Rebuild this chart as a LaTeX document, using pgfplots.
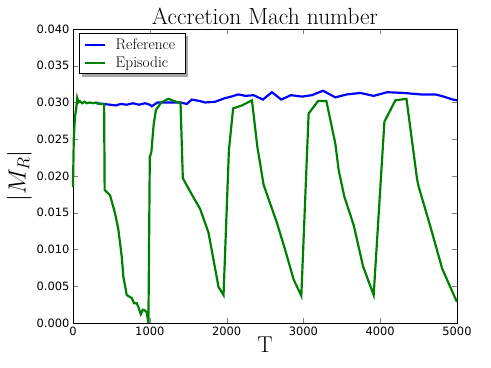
\documentclass[border=0pt]{standalone}
\usepackage{fontspec}
\usepackage{pgfplots}
\pgfplotsset{compat=1.18}
\usetikzlibrary{backgrounds,calc}
\newfontfamily\ticksans{DejaVu Sans}
\definecolor{mplblue}{rgb}{0,0,1}
\definecolor{mplgreen}{rgb}{0,0.5,0}
\begin{document}
\begin{tikzpicture}
\begin{axis}[
    scale only axis,
    width=384bp, height=294bp,
    xmin=0, xmax=5000, ymin=0, ymax=0.04,
    xtick={0,1000,2000,3000,4000,5000},
    ytick={0,0.005,0.01,0.015,0.02,0.025,0.03,0.035,0.04},
    scaled y ticks=false,
    scaled x ticks=false,
    yticklabel style={/pgf/number format/.cd, fixed, fixed zerofill, precision=3},
    xticklabel style={/pgf/number format/.cd, fixed, 1000 sep={}},
    /pgf/number format/assume math mode=true,
    ticklabel style={font=\ticksans\fontsize{11.5}{13}\selectfont},
    tick align=inside, xtick pos=both, ytick pos=both,
    major tick length=5bp,
    axis line style={line width=0.8pt},
    title={Accretion Mach number},
    title style={font=\fontsize{23.5}{26}\selectfont, yshift=-5bp},
    xlabel={T},
    xlabel style={font=\fontsize{23}{25}\selectfont, yshift=5bp},
    ylabel={$|M_R|$},
    ylabel style={font=\fontsize{23}{25}\selectfont, yshift=-2bp},
    legend style={name=leg, at={(rel axis cs:0.016,0.985)}, anchor=north west,
        draw=black, line width=0.8pt, fill=white,
        font=\fontsize{15.5}{17}\selectfont, row sep=1.5bp, inner xsep=4bp, inner ysep=3bp},
    legend image code/.code={\draw[#1] (0bp,0bp) -- (20bp,0bp);},
    legend style={nodes={inner xsep=6bp, inner ysep=2bp}},
    /tikz/every odd column/.append style={column sep=4bp},
    legend cell align=left,
    clip=false,
]
\addplot[mplblue, line width=2.2pt] coordinates {
(300,0.0299) (400,0.0298)
(480,0.0297) (560,0.0296) (620,0.0298) (700,0.0297) (780,0.0299) (860,0.0297) (940,0.0299)
(1000,0.0297) (1026,0.0295) (1100,0.0300) (1200,0.0300) (1300,0.0300) (1400,0.0300)
(1482,0.0298) (1547,0.0304) (1650,0.0302) (1720,0.0300) (1850,0.0301) (1980,0.0306)
(2060,0.0308) (2150,0.0311) (2250,0.0309) (2350,0.0310) (2473,0.0304) (2590,0.0314)
(2712,0.0304) (2838,0.0310) (2982,0.0308) (3112,0.0310) (3256,0.0316) (3416,0.0307)
(3568,0.0311) (3742,0.0313) (3915,0.0309) (4090,0.0314) (4306,0.0313) (4524,0.0311)
(4720,0.0311) (4828,0.0308) (4945,0.0304) (5000,0.0303)
};
\addlegendentry{Reference}
\addplot[mplgreen, line width=2.2pt] coordinates {
(0,0.0185) (10,0.025) (25,0.0280) (40,0.0290) (55,0.0306) (70,0.0300) (90,0.0302)
(120,0.0299) (150,0.0301) (180,0.0299) (220,0.0300) (260,0.0299) (300,0.0300) (350,0.0298)
(405,0.0298) (412,0.0181) (482,0.0174) (548,0.0149) (591,0.0127) (635,0.0090) (656,0.0063)
(700,0.0038) (765,0.0034) (795,0.0027) (830,0.0027) (850,0.0022) (883,0.0012) (908,0.0018)
(939,0.0017) (961,0.0014) (982,0.0000) (1000,0.0226) (1020,0.0232) (1050,0.0270)
(1080,0.0290) (1150,0.0300) (1240,0.0305) (1370,0.0300) (1400,0.0300) (1430,0.0197)
(1525,0.0179) (1656,0.0155) (1764,0.0123) (1895,0.0049) (1960,0.0038) (2030,0.0235)
(2085,0.0292) (2200,0.0296) (2330,0.0303) (2400,0.0240) (2482,0.0188) (2656,0.0136)
(2764,0.0099) (2873,0.0059) (2973,0.0037) (3068,0.0285) (3190,0.0302) (3299,0.0302)
(3416,0.0244) (3459,0.0208) (3533,0.0172) (3655,0.0133) (3777,0.0077) (3915,0.0038)
(4055,0.0274) (4198,0.0303) (4342,0.0305) (4481,0.0195) (4502,0.0185) (4654,0.0131)
(4807,0.0074) (4993,0.0030) (5000,0.0029)
};
\addlegendentry{Episodic}
\path (rel axis cs:0,0) ++(-73bp,-45bp) (rel axis cs:1,1) ++(34bp,29bp);
\end{axis}
\begin{scope}[on background layer]
\fill[gray!70] ($(leg.south west)+(2.5bp,-2.5bp)$) rectangle ($(leg.north east)+(2.5bp,-2.5bp)$);
\end{scope}
\end{tikzpicture}
\end{document}
